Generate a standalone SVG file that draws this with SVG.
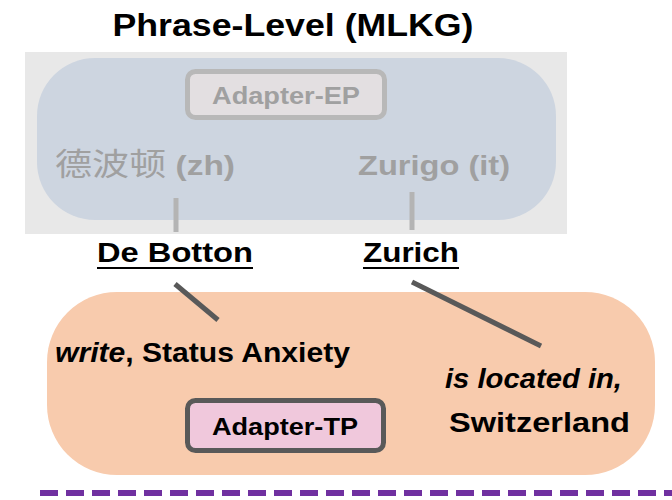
<svg xmlns="http://www.w3.org/2000/svg" width="672" height="500" viewBox="0 0 672 500">
<style>
text{font-family:"Liberation Sans","Noto Sans CJK SC",sans-serif;font-weight:bold;}
.g{fill:#a0a0a0;font-size:28px;}
.b{fill:#000;font-size:28px;}
.gl{stroke:#b4b4b4;stroke-width:5;}
.dl{stroke:#595959;stroke-width:5;}
</style>
<rect width="672" height="500" fill="#fff"/>
<text x="293" y="36" text-anchor="middle" class="b" style="font-size:31px" textLength="361" lengthAdjust="spacingAndGlyphs">Phrase-Level (MLKG)</text>
<g id="mlkg">
<rect x="25" y="52" width="542" height="182" fill="#e8e8e8"/>
<rect x="37" y="58" width="519" height="162" rx="58" fill="#cdd5e0"/>
</g>
<g id="adapter-ep">
<rect x="187.5" y="71.5" width="197" height="46" rx="8" fill="#e3dfe1" stroke="#b8b8b8" stroke-width="5"/>
<text x="286" y="104" text-anchor="middle" class="g" style="font-size:24px" textLength="148" lengthAdjust="spacingAndGlyphs">Adapter-EP</text>
</g>
<g id="zh">
<text x="55" y="175" class="g" textLength="180" lengthAdjust="spacingAndGlyphs"><tspan font-weight="normal" style="font-family:'Noto Sans CJK SC',sans-serif;font-size:31px">德波顿</tspan> (zh)</text>
</g>
<g id="it">
<text x="358" y="175" class="g" textLength="152" lengthAdjust="spacingAndGlyphs">Zurigo (it)</text>
</g>
<g id="debotton">
<text x="97" y="262" class="b" textLength="156" lengthAdjust="spacingAndGlyphs">De Botton</text>
<line x1="97" y1="268" x2="253" y2="268" stroke="#000" stroke-width="2"/>
</g>
<g id="zurich">
<text x="363" y="262" class="b" textLength="96" lengthAdjust="spacingAndGlyphs">Zurich</text>
<line x1="363" y1="268" x2="459" y2="268" stroke="#000" stroke-width="2"/>
</g>
<g id="tkg">
<rect x="47" y="292" width="608" height="183" rx="70" fill="#f8cbad"/>
</g>
<g id="t1">
<text x="55" y="362" class="b" textLength="295" lengthAdjust="spacingAndGlyphs"><tspan font-style="italic">write</tspan>, Status Anxiety</text>
</g>
<g id="t2">
<text x="445" y="388" class="b" font-style="italic" textLength="177" lengthAdjust="spacingAndGlyphs">is located in,</text>
<text x="449" y="432" class="b" textLength="181" lengthAdjust="spacingAndGlyphs">Switzerland</text>
</g>
<g id="adapter-tp">
<rect x="187.5" y="400.5" width="196" height="50" rx="8" fill="#f0c8dc" stroke="#595959" stroke-width="5"/>
<text x="285" y="435" text-anchor="middle" class="b" style="font-size:24px" textLength="146" lengthAdjust="spacingAndGlyphs">Adapter-TP</text>
</g>
<g id="connectors">
<line class="gl" x1="176" y1="198" x2="176" y2="232"/>
<line class="gl" x1="412" y1="192" x2="412" y2="230"/>
<line class="dl" x1="175" y1="284" x2="218" y2="320"/>
<line class="dl" x1="412" y1="282" x2="541" y2="346"/>
</g>
<line x1="40" y1="493" x2="672" y2="493" stroke="#7030a0" stroke-width="6" stroke-dasharray="18 8"/>
</svg>
